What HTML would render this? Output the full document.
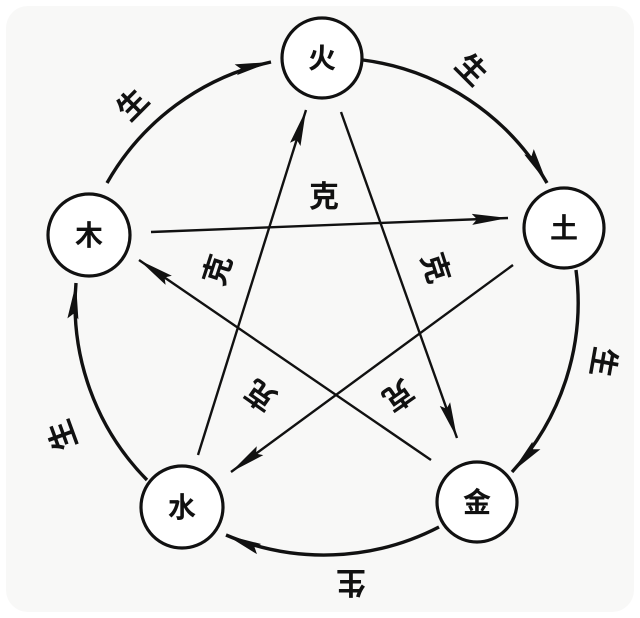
<!DOCTYPE html>
<html><head><meta charset="utf-8"><style>
html,body{margin:0;padding:0;background:#fff;}
svg{display:block;}
text{font-family:"Liberation Sans","Noto Sans CJK SC",sans-serif;fill:#111;}
</style></head><body>
<svg width="640" height="618" viewBox="0 0 640 618" xmlns="http://www.w3.org/2000/svg">
<defs>
<marker id="ah" viewBox="0 0 36 14" refX="36" refY="7" markerWidth="36" markerHeight="14" markerUnits="userSpaceOnUse" orient="auto">
<path d="M0,1.5 L36,7 L0,12.5 L5,7 Z" fill="#111"/>
</marker>
</defs>
<rect x="6" y="6" width="628" height="606" rx="22" fill="#f8f8f7"/>
<g fill="none" stroke="#111" stroke-width="3.4">
<path d="M107,183 A250,250 0 0 1 271,62" marker-end="url(#ah)"/>
<path d="M363,60 A250,250 0 0 1 547,183" marker-end="url(#ah)"/>
<path d="M576,270 A250,250 0 0 1 512,472" marker-end="url(#ah)"/>
<path d="M439,527 A250,250 0 0 1 226,535" marker-end="url(#ah)"/>
<path d="M147,480 A250,250 0 0 1 76,283" marker-end="url(#ah)"/>
</g>
<g stroke="#111" stroke-width="2.4">
<line x1="151" y1="232" x2="508" y2="218" marker-end="url(#ah)"/>
<line x1="198" y1="455" x2="306" y2="110" marker-end="url(#ah)"/>
<line x1="341" y1="112" x2="457" y2="438" marker-end="url(#ah)"/>
<line x1="513" y1="265" x2="231" y2="472" marker-end="url(#ah)"/>
<line x1="431" y1="460" x2="139" y2="260" marker-end="url(#ah)"/>
</g>
<g fill="#fff" stroke="#111" stroke-width="3.2">
<circle cx="322" cy="58" r="40"/>
<circle cx="564" cy="228" r="40"/>
<circle cx="89" cy="235" r="41"/>
<circle cx="182" cy="507" r="41"/>
<circle cx="477" cy="502" r="40"/>
</g>
<g font-size="28" text-anchor="middle" font-weight="bold">
<text x="322" y="68">火</text>
<text x="564" y="238">土</text>
<text x="89" y="245">木</text>
<text x="182" y="517">水</text>
<text x="477" y="512">金</text>
</g>
<g font-size="30" text-anchor="middle" font-weight="bold">
<text transform="translate(133,105) rotate(-45)" y="10">生</text>
<text transform="translate(471,70) rotate(45)" y="10">生</text>
<text transform="translate(603,362) rotate(100)" y="10">生</text>
<text transform="translate(351,582) rotate(180)" y="10">生</text>
<text transform="translate(63,435) rotate(-110)" y="10">生</text>
<text transform="translate(324,197)" y="10">克</text>
<text transform="translate(218,270) rotate(-72)" y="10">克</text>
<text transform="translate(435,268) rotate(72)" y="10">克</text>
<text transform="translate(261,395) rotate(-145)" y="10">克</text>
<text transform="translate(398,395) rotate(145)" y="10">克</text>
</g>
</svg>
</body></html>
